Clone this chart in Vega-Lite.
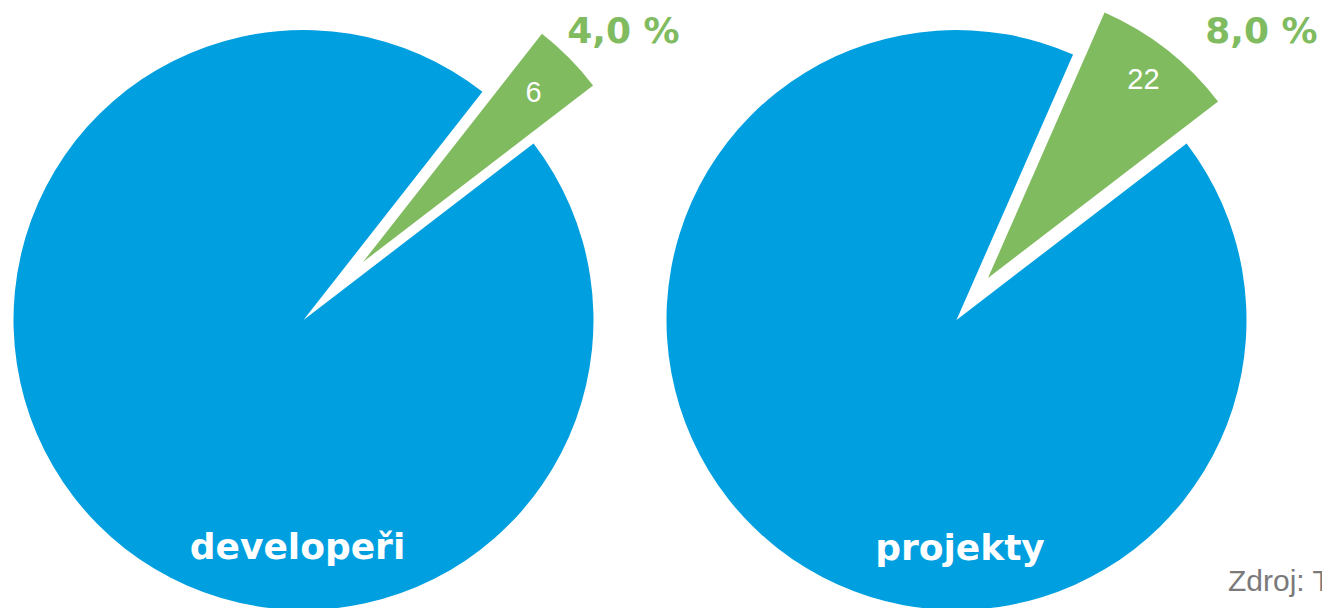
{
  "$schema": "https://vega.github.io/schema/vega-lite/v6.json",
  "width": 1322,
  "height": 576,
  "autosize": {"type": "none"},
  "padding": {"left": 0, "right": 0, "top": 32, "bottom": 0},
  "background": "white",
  "config": {"view": {"stroke": null}},
  "data": {
    "values": [
      {"graf": "developeři", "skupina": "ostatní", "hodnota": 144, "podil": "96,0 %"},
      {"graf": "developeři", "skupina": "sledovaní", "hodnota": 6, "podil": "4,0 %"},
      {"graf": "projekty", "skupina": "ostatní", "hodnota": 253, "podil": "92,0 %"},
      {"graf": "projekty", "skupina": "sledovaní", "hodnota": 22, "podil": "8,0 %"}
    ]
  },
  "encoding": {
    "x": {
      "field": "graf",
      "type": "nominal",
      "scale": {"type": "point", "domain": ["developeři", "projekty"], "range": [303.5, 956.5], "padding": 0},
      "axis": null
    }
  },
  "layer": [
    {
      "transform": [{"filter": "datum.graf == 'developeři'"}],
      "layer": [
        {
          "mark": {"type": "arc", "radius": 290},
          "encoding": {
            "theta": {"field": "hodnota", "type": "quantitative", "stack": "normalize", "scale": {"domain": [0, 1], "range": [0.9163, 7.1995]}},
            "order": {"field": "skupina", "sort": "ascending"},
            "color": {"field": "skupina", "type": "nominal", "scale": {"domain": ["ostatní", "sledovaní"], "range": ["#009FDF", "#80BB5F"]}, "legend": null},
            "opacity": {"condition": {"test": "datum.skupina == 'ostatní'", "value": 1}, "value": 0}
          }
        },
        {
          "mark": {"type": "arc", "radius": 290, "xOffset": 59.5, "yOffset": -58},
          "encoding": {
            "theta": {"field": "hodnota", "type": "quantitative", "stack": "normalize", "scale": {"domain": [0, 1], "range": [0.9163, 7.1995]}},
            "order": {"field": "skupina", "sort": "ascending"},
            "color": {"field": "skupina", "type": "nominal", "scale": {"domain": ["ostatní", "sledovaní"], "range": ["#009FDF", "#80BB5F"]}, "legend": null},
            "opacity": {"condition": {"test": "datum.skupina == 'sledovaní'", "value": 1}, "value": 0}
          }
        },
        {
          "mark": {"type": "text", "radius": 240, "xOffset": 59.5, "yOffset": -58, "font": "Liberation Sans", "fontSize": 29, "color": "white", "align": "center", "baseline": "middle"},
          "encoding": {
            "theta": {"field": "hodnota", "type": "quantitative", "stack": "normalize", "scale": {"domain": [0, 1], "range": [0.9163, 7.1995]}},
            "order": {"field": "skupina", "sort": "ascending"},
            "detail": {"field": "skupina"},
            "text": {"field": "hodnota", "type": "quantitative"},
            "opacity": {"condition": {"test": "datum.skupina == 'sledovaní'", "value": 1}, "value": 0}
          }
        },
        {
          "transform": [{"filter": "datum.skupina == 'sledovaní'"}],
          "mark": {"type": "text", "dx": 320, "dy": -277, "font": "DejaVu Sans", "fontWeight": "bold", "fontSize": 36, "color": "#80BB5F", "align": "center", "baseline": "alphabetic"},
          "encoding": {"text": {"field": "podil"}}
        },
        {
          "transform": [{"filter": "datum.skupina == 'sledovaní'"}],
          "mark": {"type": "text", "dx": -6, "dy": 239, "font": "DejaVu Sans", "fontWeight": "bold", "fontSize": 36, "color": "white", "align": "center", "baseline": "alphabetic"},
          "encoding": {"text": {"field": "graf"}}
        }
      ]
    },
    {
      "transform": [{"filter": "datum.graf == 'projekty'"}],
      "layer": [
        {
          "mark": {"type": "arc", "radius": 290},
          "encoding": {
            "theta": {"field": "hodnota", "type": "quantitative", "stack": "normalize", "scale": {"domain": [0, 1], "range": [0.9163, 7.1995]}},
            "order": {"field": "skupina", "sort": "ascending"},
            "color": {"field": "skupina", "type": "nominal", "scale": {"domain": ["ostatní", "sledovaní"], "range": ["#009FDF", "#80BB5F"]}, "legend": null},
            "opacity": {"condition": {"test": "datum.skupina == 'ostatní'", "value": 1}, "value": 0}
          }
        },
        {
          "mark": {"type": "arc", "radius": 290, "xOffset": 31.5, "yOffset": -42},
          "encoding": {
            "theta": {"field": "hodnota", "type": "quantitative", "stack": "normalize", "scale": {"domain": [0, 1], "range": [0.9163, 7.1995]}},
            "order": {"field": "skupina", "sort": "ascending"},
            "color": {"field": "skupina", "type": "nominal", "scale": {"domain": ["ostatní", "sledovaní"], "range": ["#009FDF", "#80BB5F"]}, "legend": null},
            "opacity": {"condition": {"test": "datum.skupina == 'sledovaní'", "value": 1}, "value": 0}
          }
        },
        {
          "mark": {"type": "text", "radius": 252, "xOffset": 31.5, "yOffset": -42, "font": "Liberation Sans", "fontSize": 29, "color": "white", "align": "center", "baseline": "middle"},
          "encoding": {
            "theta": {"field": "hodnota", "type": "quantitative", "stack": "normalize", "scale": {"domain": [0, 1], "range": [0.9163, 7.1995]}},
            "order": {"field": "skupina", "sort": "ascending"},
            "detail": {"field": "skupina"},
            "text": {"field": "hodnota", "type": "quantitative"},
            "opacity": {"condition": {"test": "datum.skupina == 'sledovaní'", "value": 1}, "value": 0}
          }
        },
        {
          "transform": [{"filter": "datum.skupina == 'sledovaní'"}],
          "mark": {"type": "text", "dx": 305, "dy": -277, "font": "DejaVu Sans", "fontWeight": "bold", "fontSize": 36, "color": "#80BB5F", "align": "center", "baseline": "alphabetic"},
          "encoding": {"text": {"field": "podil"}}
        },
        {
          "transform": [{"filter": "datum.skupina == 'sledovaní'"}],
          "mark": {"type": "text", "dx": 3.5, "dy": 240, "font": "DejaVu Sans", "fontWeight": "bold", "fontSize": 36, "color": "white", "align": "center", "baseline": "alphabetic"},
          "encoding": {"text": {"field": "graf"}}
        }
      ]
    },
    {
      "data": {"values": [{"zdroj": "Zdroj: Trend"}]},
      "mark": {"type": "text", "dx": 271.5, "dy": 271, "font": "Liberation Sans", "fontSize": 30, "color": "#7A7A7A", "align": "left", "baseline": "alphabetic"},
      "encoding": {
        "x": {"datum": "projekty", "type": "nominal"},
        "text": {"field": "zdroj"}
      }
    }
  ]
}
